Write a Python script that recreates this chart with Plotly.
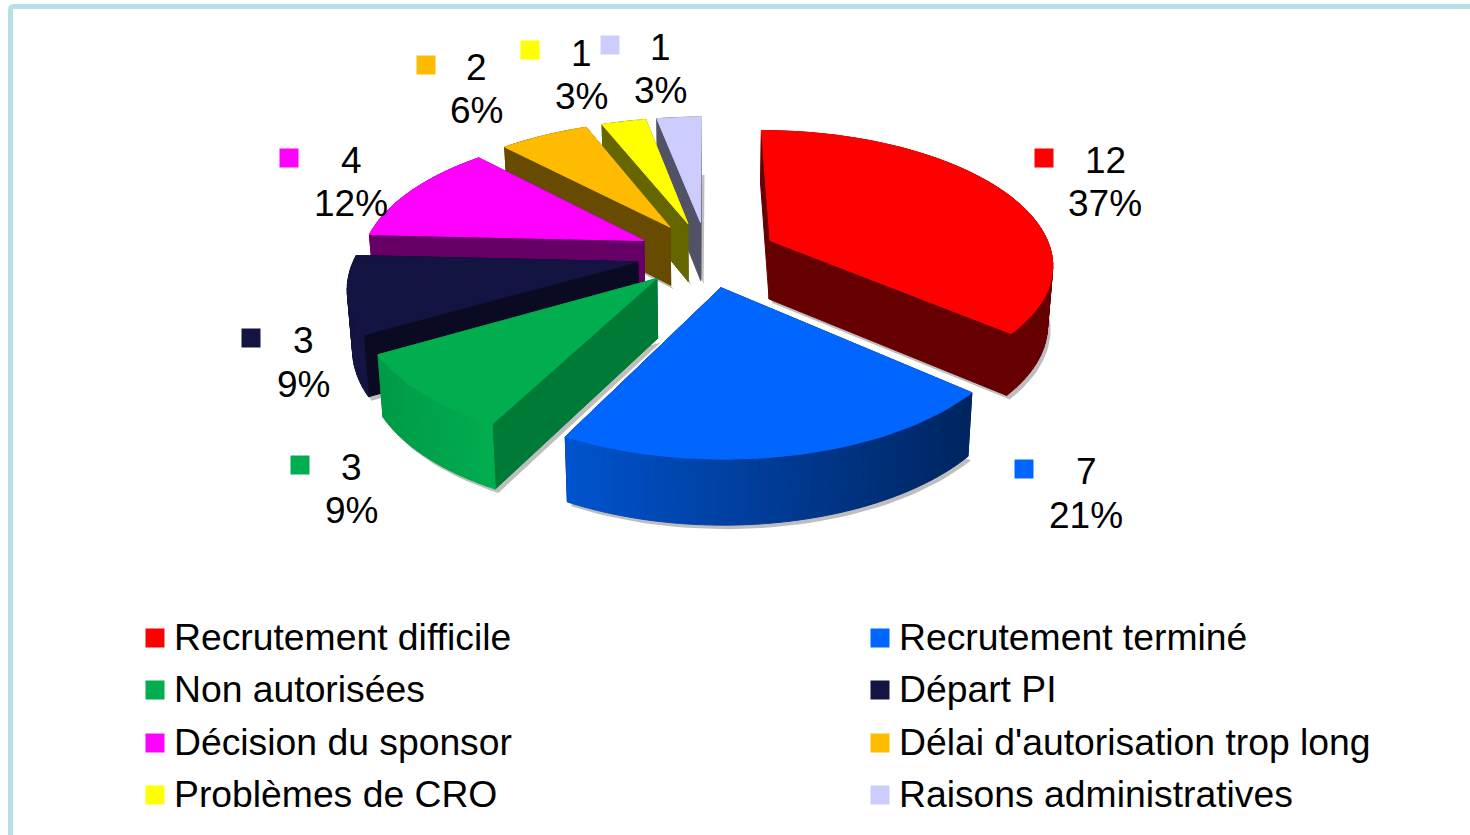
import math
import plotly.graph_objects as go

# ---- data ----
categories = ["Recrutement difficile", "Recrutement terminé", "Non autorisées", "Départ PI",
              "Décision du sponsor", "Délai d'autorisation trop long", "Problèmes de CRO",
              "Raisons administratives"]
values = [12, 7, 3, 3, 4, 2, 1, 1]
percent_labels = ["37%", "21%", "9%", "9%", "12%", "6%", "3%", "3%"]

# ---- styles ----
top_colors = ["#FF0000", "#0066FF", "#00AD4F", "#141442", "#FF00FF", "#FFBB00", "#FFFF00", "#CCCCFF"]
cut_colors = ["#660000", "#002966", "#007A37", "#0A0A22", "#660066", "#664B00", "#666600", "#525266"]
wall_left = ["#660000", "#0054D0", "#009A47", "#141442", "#660066", "#664B00", "#666600", "#525266"]
wall_right = ["#660000", "#002560", "#00AD4F", "#141442", "#660066", "#664B00", "#666600", "#525266"]
FONT = "Liberation Sans, Arial, sans-serif"

# label positions in page pixels: marker x/y, text centre x, first line y, second line y
label_pos = [(1044, 158, 1105, 160, 203), (1024, 469, 1086, 471, 515), (300, 465, 351, 467, 510),
             (251, 338, 303, 340, 384), (289, 158, 351, 160, 203), (426, 65, 476, 67, 110),
             (530, 50, 581, 53, 96), (610, 45, 660, 47, 90)]
legend_pos = [(155, 638), (880, 638), (155, 690), (880, 690), (155, 743), (880, 743), (155, 795), (880, 795)]

# projection parameters
CX, CY, BX, AY, K, H, EXPLODE, CONVERGE = 707, 254, 282, 131.7, 0.161, 59, 0.25, 0.015


def proj(x, y, z=0.0):
    s = 1 / (1 + K * y)
    return CX + BX * x * s * (1 - CONVERGE * z), CY - AY * y * s + H * z * s ** 0.5


def mix(c1, c2, t):
    a = [int(c1[i:i + 2], 16) for i in (1, 3, 5)]
    b = [int(c2[i:i + 2], 16) for i in (1, 3, 5)]
    return "rgb(%d,%d,%d)" % tuple(round(p + (q - p) * t) for p, q in zip(a, b))


def area(pts):
    return sum(pts[i][0] * pts[(i + 1) % len(pts)][1] - pts[(i + 1) % len(pts)][0] * pts[i][1]
               for i in range(len(pts))) / 2


fig = go.Figure()


def poly(pts, color, width=1):
    fig.add_trace(go.Scatter(x=[p[0] for p in pts] + [pts[0][0]], y=[p[1] for p in pts] + [pts[0][1]],
                             mode="lines", fill="toself", fillcolor=color,
                             line=dict(width=width, color=color), hoverinfo="skip", showlegend=False))


total = sum(values)
slices = []
acc = 0.0
for i, v in enumerate(values):
    a0 = acc / total * 2 * math.pi
    acc += v
    a1 = acc / total * 2 * math.pi
    slices.append((i, a0, a1))

order = sorted(slices, key=lambda s: -math.cos((s[1] + s[2]) / 2))
for i, a0, a1 in order:
    mid = (a0 + a1) / 2
    ax, ay = EXPLODE * math.sin(mid), EXPLODE * math.cos(mid)
    n = max(4, int((a1 - a0) / 0.03))
    ang = [a0 + (a1 - a0) * j / n for j in range(n + 1)]
    rim = [(ax + math.sin(t), ay + math.cos(t)) for t in ang]
    # soft shadow under the slice
    base = [proj(ax, ay, 1)] + [proj(x, y, 1) for x, y in rim]
    poly([(x + 3, y + 4) for x, y in base], "rgba(110,110,110,0.45)", 0)
    faces = []
    for a, b in (((ax, ay), rim[0]), (rim[-1], (ax, ay))):
        q = [proj(*a), proj(*b), proj(*b, 1), proj(*a, 1)]
        faces.append((q, cut_colors[i]))
    span = (proj(*rim[0])[0] - proj(*rim[-1])[0]) or 1
    for j in range(n):
        q = [proj(*rim[j]), proj(*rim[j + 1]), proj(*rim[j + 1], 1), proj(*rim[j], 1)]
        t = (proj(*rim[j])[0] - proj(*rim[-1])[0]) / span
        faces.append((q, mix(wall_left[i], wall_right[i], max(0, min(1, t)))))
    for q, c in faces:
        if area(q) > 0:
            poly(q, c)
    for q, c in faces:
        if area(q) <= 0:
            poly(q, c)
    poly([proj(ax, ay)] + [proj(x, y) for x, y in rim], top_colors[i])

# data-label keys and legend keys
fig.add_trace(go.Scatter(x=[p[0] for p in label_pos], y=[p[1] for p in label_pos], mode="markers",
                         marker=dict(symbol="square", size=19, color=top_colors, line=dict(width=0)),
                         hoverinfo="skip", showlegend=False))
fig.add_trace(go.Scatter(x=[p[0] for p in legend_pos], y=[p[1] for p in legend_pos], mode="markers",
                         marker=dict(symbol="square", size=19, color=top_colors, line=dict(width=0)),
                         hoverinfo="skip", showlegend=False))

ann = []
for v, pct, p in zip(values, percent_labels, label_pos):
    for txt, y in ((str(v), p[3]), (pct, p[4])):
        ann.append(dict(x=p[2], y=y, text=txt, showarrow=False, xanchor="center", yanchor="middle",
                        font=dict(family=FONT, size=37, color="black")))
for name, p in zip(categories, legend_pos):
    ann.append(dict(x=p[0] + 17, y=p[1] - 1, text=name, showarrow=False, xanchor="left", yanchor="middle",
                    font=dict(family=FONT, size=37.3, color="black")))

fig.update_layout(
    width=1470, height=835, margin=dict(l=0, r=0, t=0, b=0), autosize=False,
    paper_bgcolor="white", plot_bgcolor="white", annotations=ann, showlegend=False,
    xaxis=dict(range=[0, 1470], visible=False, fixedrange=True),
    yaxis=dict(range=[835, 0], visible=False, fixedrange=True),
    shapes=[dict(type="path", xref="x", yref="y", path="M 10.5 835 L 10.5 10 Q 10.5 6.5 14 6.5 L 1470 6.5",
                 line=dict(color="#B8E0E4", width=5), fillcolor="rgba(0,0,0,0)")],
)
fig.write_html("out.html", config={"displayModeBar": False},
               post_script="document.body.style.margin='0';document.documentElement.style.overflow='hidden';")
